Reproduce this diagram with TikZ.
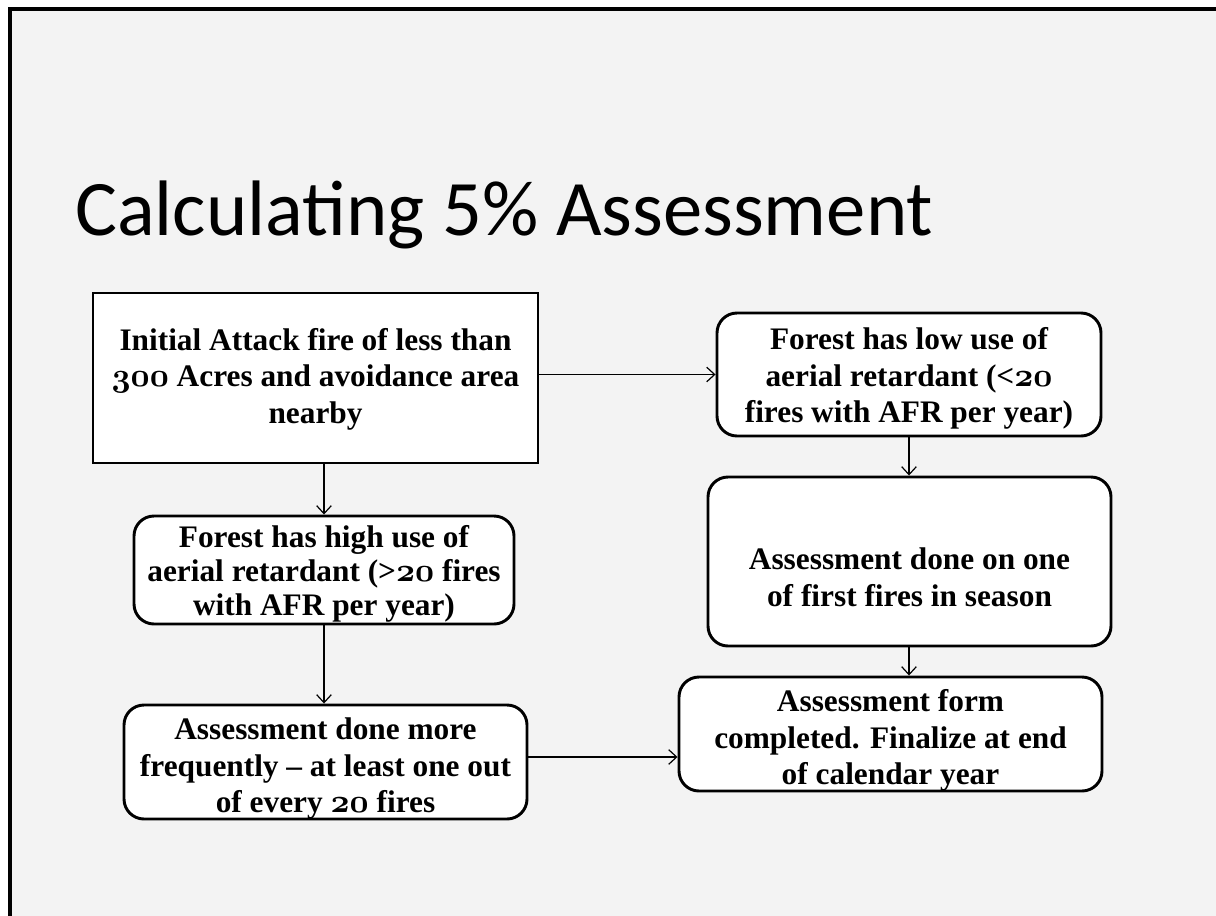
\documentclass[tikz,border=0pt]{standalone}
\usepackage{fontspec}
\setmainfont{Liberation Serif}
\newfontfamily\titlefont{Carlito}
\usetikzlibrary{arrows.meta}

% old-style digits taken from the bold math italic font
\newcommand{\osn}[1]{{\fontencoding{OML}\fontfamily{cmm}\fontseries{b}\fontshape{it}\selectfont #1}}

\definecolor{slidebg}{HTML}{F3F3F3}

\tikzset{
  flowbox/.style={draw=black, line width=2.2pt, fill=white, inner sep=0pt},
  roundbox/.style={flowbox, rounded corners=15pt},
  boxtext/.style={align=center, inner sep=0pt,
    font=\bfseries\fontsize{23.5pt}{27.5pt}\selectfont},
  arr/.style={-{Straight Barb[length=6pt,width=11pt]}, line width=0.9pt},
}

\begin{document}
\begin{tikzpicture}[x=0.75pt,y=-0.75pt]
  \useasboundingbox (0,0) rectangle (1216,916);
  % slide background and its frame
  \fill[white] (0,0) rectangle (1216,916);
  \fill[slidebg] (10,9) rectangle (1216,916);
  \draw[line width=3pt] (1216,9) -- (10,9) -- (10,916);

  % title
  \node[anchor=base west, inner sep=0pt, font=\titlefont\fontsize{59pt}{62pt}\selectfont]
    (title) at (75,235) {Calculating 5\% Assessment};

  % flow boxes
  \node[flowbox, minimum width=333.75pt, minimum height=127.5pt] (init) at (315.5,378) {};
  \node[roundbox, minimum width=288pt, minimum height=92.25pt] (low) at (909,374.5) {};
  \node[roundbox, minimum width=285pt, minimum height=81pt] (high) at (324,570) {};
  \node[roundbox, minimum width=302.25pt, minimum height=126.75pt] (first) at (909.5,561.5) {};
  \node[roundbox, minimum width=302.25pt, minimum height=85.5pt] (often) at (325.5,762) {};
  \node[roundbox, minimum width=317.25pt, minimum height=85.5pt] (form) at (890.5,734) {};

  % box texts
  \node[boxtext] (init-t) at ([yshift=-1pt]init.center)
    {Initial Attack fire of less than\\ \osn{300} Acres and avoidance area\\ nearby};
  \node[boxtext] (low-t) at ([yshift=-3pt]low.center)
    {Forest has low use of\\ aerial retardant (<\osn{20}\\ fires with AFR per year)};
  \node[boxtext, font=\bfseries\fontsize{23.5pt}{25.5pt}\selectfont] (high-t) at ([yshift=-3pt]high.center)
    {Forest has high use of\\ aerial retardant (>\osn{20} fires\\ with AFR per year)};
  \node[boxtext] (first-t) at ([yshift=-12pt]first.center)
    {Assessment done on one\\ of first fires in season};
  \node[boxtext] (often-t) at ([yshift=-5pt]often.center)
    {Assessment done more\\ frequently – at least one out\\ of every \osn{20} fires};
  \node[boxtext] (form-t) at ([yshift=-5pt]form.center)
    {Assessment form\\ completed. Finalize at end\\ of calendar year};

  % connectors
  \draw[arr] (low.west -| init.east) -- (low.west);
  \draw[arr] (high.north |- init.south) -- (high.north);
  \draw[arr] (high.south) -- (high.south |- often.north);
  \draw[arr] (low.south) -- (low.south |- first.north);
  \draw[arr] (low.south |- first.south) -- (low.south |- form.north);
  \draw[arr] (often.east |- 0,757) -- (form.west |- 0,757);
\end{tikzpicture}
\end{document}
